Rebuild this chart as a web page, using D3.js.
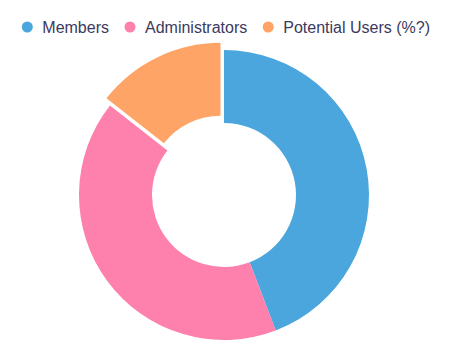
<!DOCTYPE html>
<html>
<head>
<meta charset="utf-8">
<script src="https://cdn.jsdelivr.net/npm/d3@7"></script>
<style>
  body { margin: 0; background: #fff; }
</style>
</head>
<body>
<div id="chart"></div>
<script>
// slice data (share in %)
const categories = ["Members", "Administrators", "Potential Users (%?)"];
const values = [44.2, 41.4, 14.4];
const colors = ["#4aa6dc", "#fd81ac", "#fea466"];
const exploded = ["Potential Users (%?)"];

const width = 449, height = 352;
const cx = 224, cy = 195, outerR = 145, innerR = 72;

const data = categories.map((c, i) => ({name: c, value: values[i]}));

const svg = d3.select("#chart")
  .append("svg")
    .attr("width", width)
    .attr("height", height);

const color = d3.scaleOrdinal()
  .domain(categories)
  .range(colors);

const pie = d3.pie()
  .sort(null)
  .value(d => d.value);

const arc = d3.arc()
  .innerRadius(innerR)
  .outerRadius(outerR);

const g = svg.append("g")
  .attr("transform", `translate(${cx},${cy})`);

g.selectAll("path")
  .data(pie(data))
  .join("path")
    .attr("d", arc)
    .attr("fill", d => color(d.data.name))
    .attr("transform", d => {
      if (!exploded.includes(d.data.name)) return null;
      const mid = (d.startAngle + d.endAngle) / 2;
      return `translate(${Math.sin(mid) * 8},${-Math.cos(mid) * 8})`;
    });

// legend across the top
const legend = svg.append("g")
  .attr("transform", "translate(27.3,27)");

let offset = 0;
categories.forEach(c => {
  const item = legend.append("g").attr("transform", `translate(${offset},0)`);
  item.append("circle")
    .attr("r", 5.5)
    .attr("fill", color(c));
  const label = item.append("text")
    .attr("x", 15)
    .attr("y", 5.5)
    .style("font-family", "Arial, 'Liberation Sans', sans-serif")
    .style("font-size", "16px")
    .style("fill", "#3b3a5c")
    .text(c);
  offset += 15 + label.node().getComputedTextLength() + 21;
});
</script>
</body>
</html>
